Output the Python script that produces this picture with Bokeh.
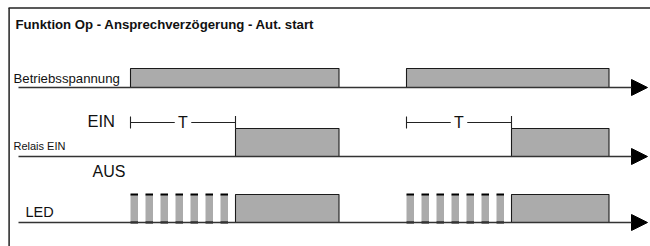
from bokeh.plotting import figure
from bokeh.models import Range1d, Arrow, NormalHead
from bokeh.embed import file_html
from bokeh.resources import INLINE
from bokeh.core.properties import value

# ---------------- data (time units; 1 unit = one LED blink period) ----------------
title = "Funktion Op - Ansprechverzögerung - Aut. start"
row_labels = ["Betriebsspannung", "Relais EIN", "LED"]
supply_on = [0.0, 18.4]
supply_off = [13.9, 31.9]
delay_T = [7.0, 7.0]
relay_on = [7.0, 25.4]
relay_off = [13.9, 31.9]
led_blink_on = [0.0, 1.0, 2.0, 3.0, 4.0, 5.0, 6.0,
                18.4, 19.4, 20.4, 21.4, 22.4, 23.4, 24.4]
led_blink_off = [0.5, 1.5, 2.5, 3.5, 4.5, 5.5, 6.5,
                 18.9, 19.9, 20.9, 21.9, 22.9, 23.9, 24.9]
led_on = [7.0, 25.4]
led_off = [13.9, 31.9]
state_labels = ["EIN", "AUS"]
delay_label = "T"

# ---------------- layout ----------------
FONT = "Liberation Sans"
FILL = "#ababab"
EDGE = "#1a1a1a"
TXT = "#111111"


def tx(xref):
    """horizontal layout position (reference pixel) -> time units"""
    return (xref - 130.0) / 15.0


# y positions are in reference pixels (axis flipped: grows downward)
base_y = [87, 156, 222]
high_y = [68, 128, 194]

p = figure(width=650, height=246, output_backend="svg", toolbar_location=None,
           x_range=Range1d(tx(0), tx(650)), y_range=Range1d(246, 0),
           x_axis_type=None, y_axis_type=None, min_border=0,
           outline_line_color=None, background_fill_color="white",
           border_fill_color="white")
p.grid.visible = False

# frame (top + left)
p.line([tx(8.6), tx(8.6)], [7.5, 250], line_color="#222222", line_width=1.5)
p.line([tx(8), tx(660)], [7.5, 7.5], line_color="#222222", line_width=1.5)

# baselines with arrows
for yb in base_y:
    p.add_layout(Arrow(end=NormalHead(size=16, fill_color="black", line_color="black"),
                       x_start=tx(18), y_start=yb, x_end=tx(647), y_end=yb,
                       line_color="#333333", line_width=1.3))

# Betriebsspannung
p.quad(left=supply_on, right=supply_off, top=high_y[0], bottom=base_y[0],
       fill_color=FILL, line_color=EDGE, line_width=1.1)

# Relais
p.quad(left=relay_on, right=relay_off, top=high_y[1], bottom=base_y[1],
       fill_color=FILL, line_color=EDGE, line_width=1.1)

# LED blinking + steady
p.quad(left=led_blink_on, right=led_blink_off, top=high_y[2], bottom=base_y[2],
       fill_color=FILL, line_color=None)
p.segment(x0=led_blink_on, y0=high_y[2], x1=led_blink_off, y1=high_y[2],
          line_color="black", line_width=1.8)
p.segment(x0=led_blink_on, y0=base_y[2], x1=led_blink_off, y1=base_y[2],
          line_color="black", line_width=1.8)
p.quad(left=led_on, right=led_off, top=high_y[2], bottom=base_y[2],
       fill_color=FILL, line_color=EDGE, line_width=1.1)

# T brackets
gap = 0.55
ty = 122
for s, d in zip(supply_on, delay_T):
    e = s + d
    m = (s + e) / 2
    p.segment(x0=[s, m + gap], y0=[ty, ty], x1=[m - gap, e], y1=[ty, ty],
              line_color="#222222", line_width=1.1)
    p.segment(x0=[s, e], y0=[116, 115.5], x1=[s, e], y1=[128, 128],
              line_color="#222222", line_width=1.1)
    p.text(x=[m], y=[ty - 0.5], text=[delay_label], text_font=value(FONT),
           text_font_size="16px", text_align="center", text_baseline="middle",
           text_color=TXT)

# texts
p.text(x=[tx(15)], y=[24], text=[title], text_font=value(FONT),
       text_font_size="13.2px", text_font_style="bold", text_baseline="middle",
       text_color=TXT)
p.text(x=[tx(13)], y=[78], text=[row_labels[0]], text_font=value(FONT),
       text_font_size="13.2px", text_baseline="middle", text_color=TXT)
p.text(x=[tx(13)], y=[145], text=[row_labels[1]], text_font=value(FONT),
       text_font_size="11px", text_baseline="middle", text_color=TXT)
p.text(x=[tx(25)], y=[211], text=[row_labels[2]], text_font=value(FONT),
       text_font_size="14.5px", text_baseline="middle", text_color=TXT)
p.text(x=[tx(87)], y=[120], text=[state_labels[0]], text_font=value(FONT),
       text_font_size="16.5px", text_baseline="middle", text_color=TXT)
p.text(x=[tx(92)], y=[171], text=[state_labels[1]], text_font=value(FONT),
       text_font_size="16px", text_baseline="middle", text_color=TXT)

open("out.html", "w").write(file_html(p, INLINE))
